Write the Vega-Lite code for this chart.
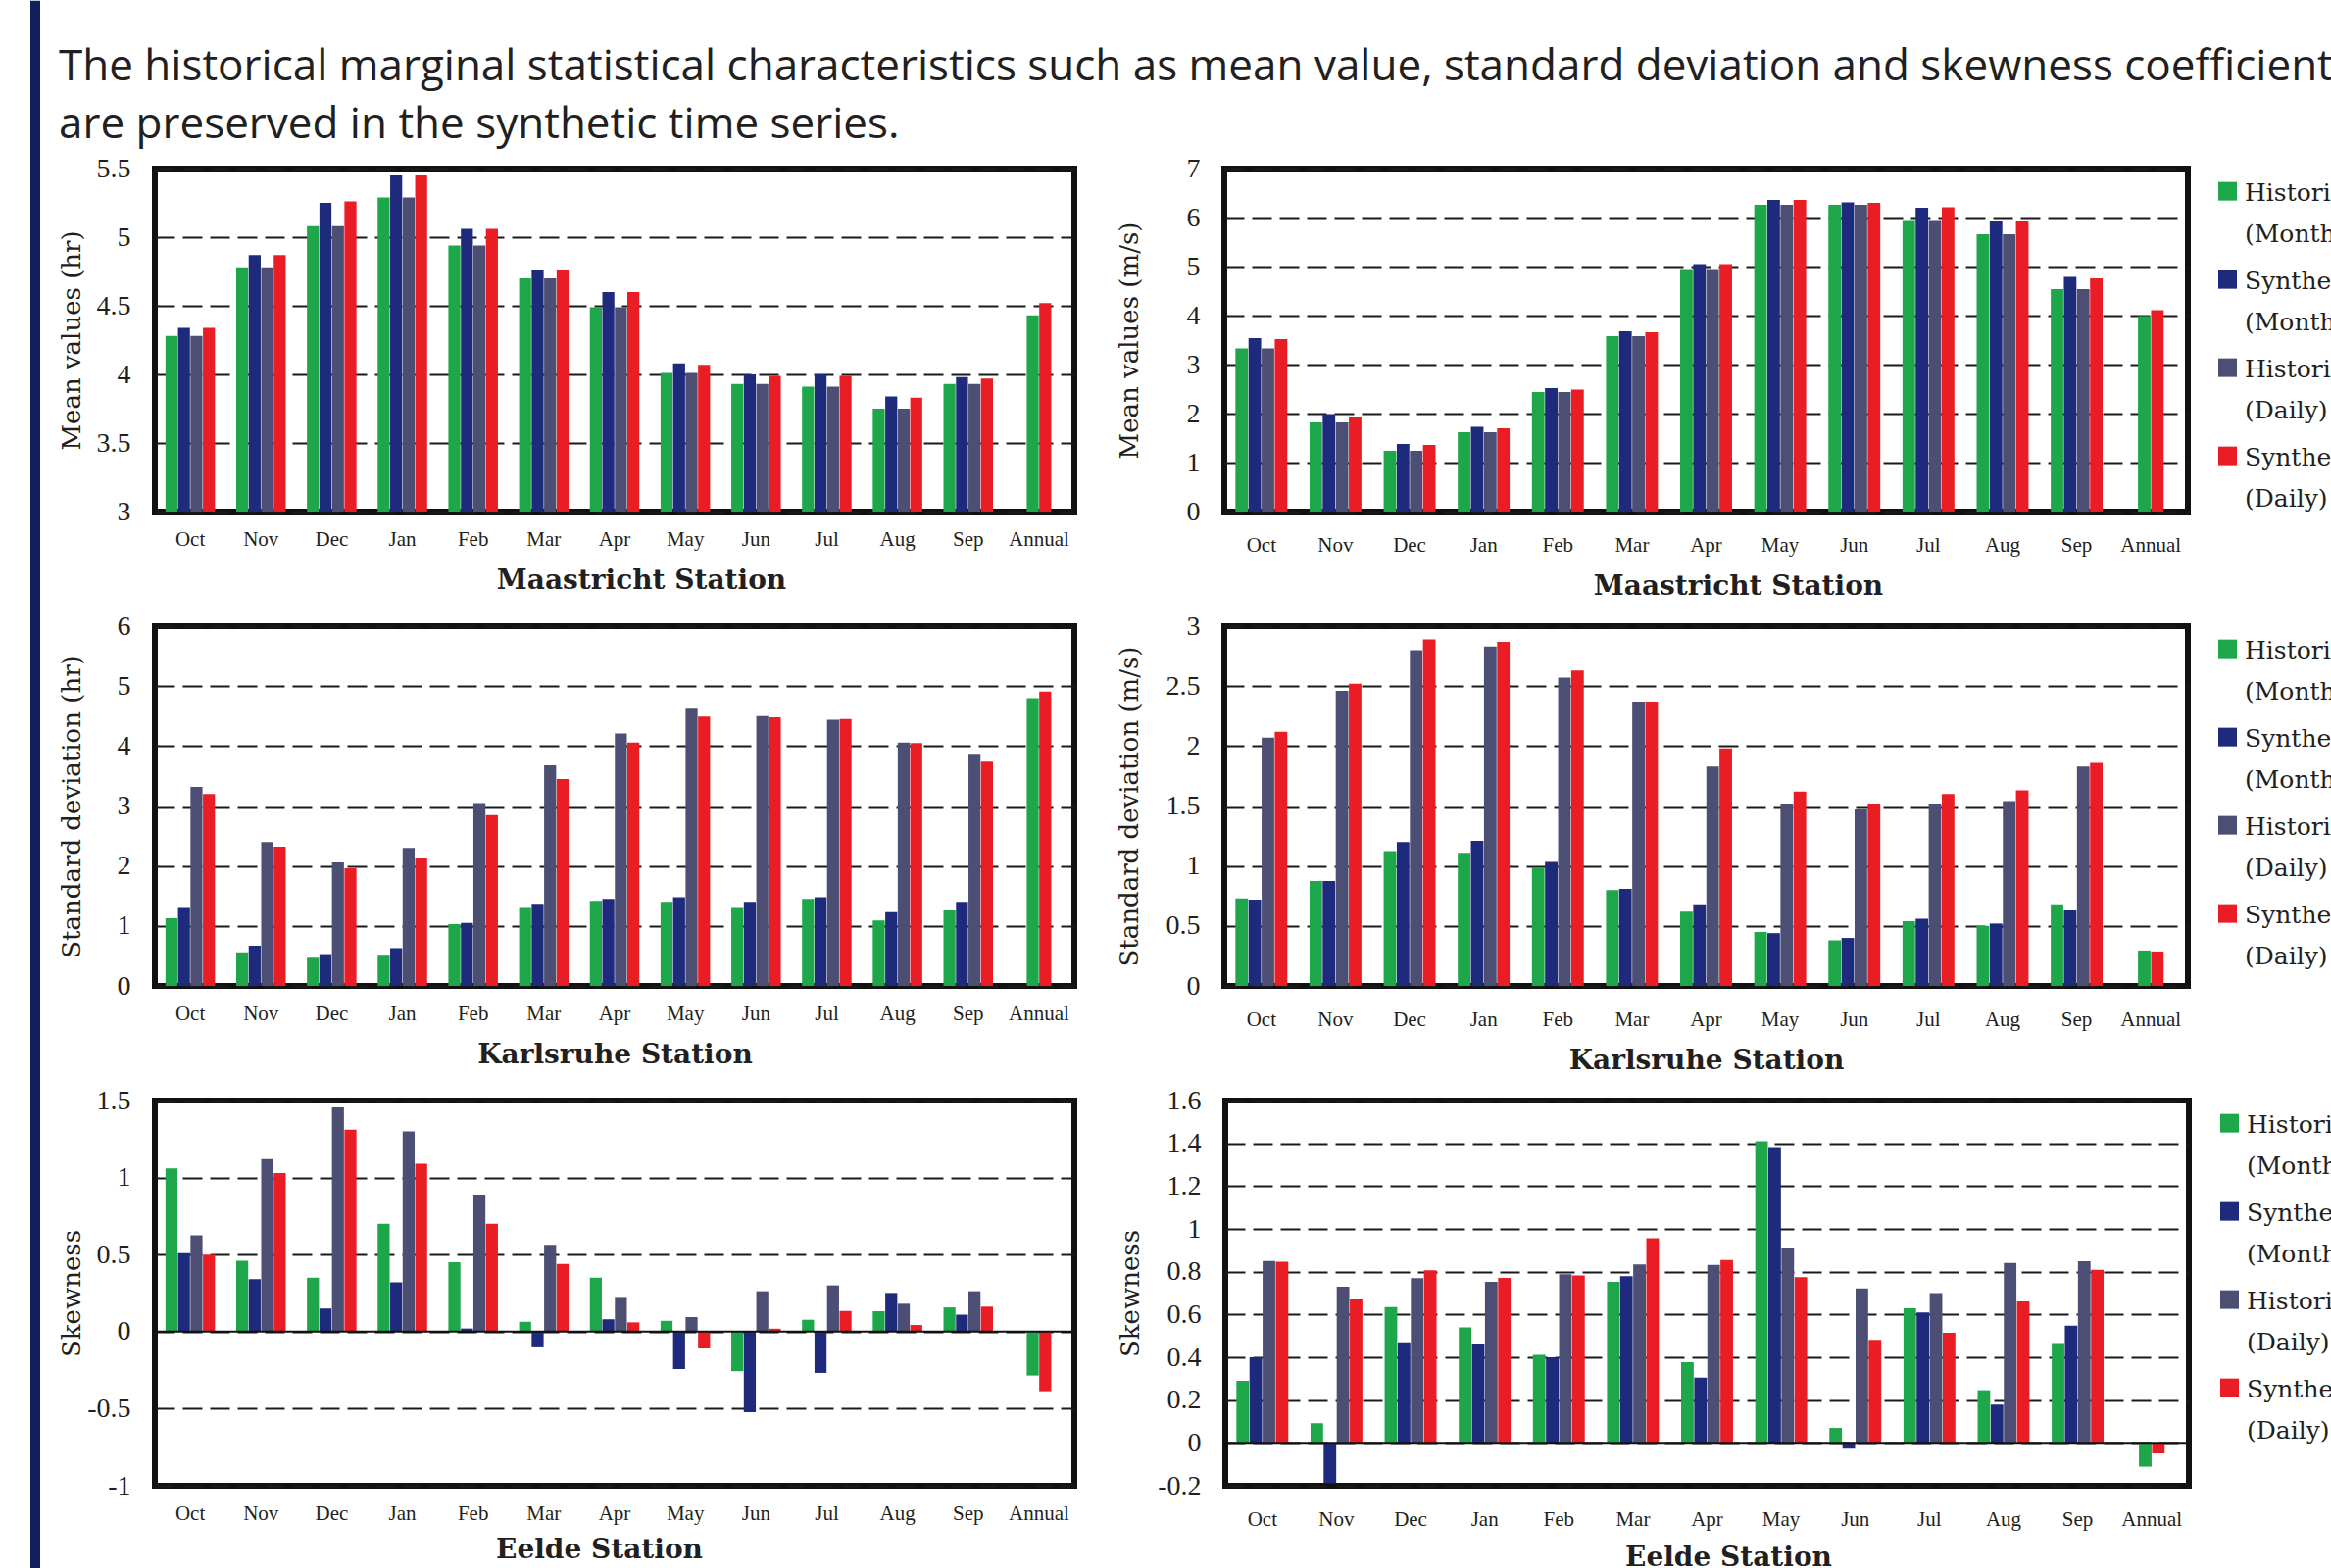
{
  "$schema": "https://vega.github.io/schema/vega-lite/v6.json",
  "background": "white",
  "padding": {"left": 31, "top": 0, "right": 0, "bottom": 0},
  "datasets": {
    "stats": [
      {"p":"mh","m":"Oct","s":"Historical (Monthly)","v":4.28},{"p":"mh","m":"Oct","s":"Synthetic (Monthly)","v":4.34},{"p":"mh","m":"Oct","s":"Historical (Daily)","v":4.28},{"p":"mh","m":"Oct","s":"Synthetic (Daily)","v":4.34},
      {"p":"mh","m":"Nov","s":"Historical (Monthly)","v":4.78},{"p":"mh","m":"Nov","s":"Synthetic (Monthly)","v":4.87},{"p":"mh","m":"Nov","s":"Historical (Daily)","v":4.78},{"p":"mh","m":"Nov","s":"Synthetic (Daily)","v":4.87},
      {"p":"mh","m":"Dec","s":"Historical (Monthly)","v":5.08},{"p":"mh","m":"Dec","s":"Synthetic (Monthly)","v":5.25},{"p":"mh","m":"Dec","s":"Historical (Daily)","v":5.08},{"p":"mh","m":"Dec","s":"Synthetic (Daily)","v":5.26},
      {"p":"mh","m":"Jan","s":"Historical (Monthly)","v":5.29},{"p":"mh","m":"Jan","s":"Synthetic (Monthly)","v":5.45},{"p":"mh","m":"Jan","s":"Historical (Daily)","v":5.29},{"p":"mh","m":"Jan","s":"Synthetic (Daily)","v":5.45},
      {"p":"mh","m":"Feb","s":"Historical (Monthly)","v":4.94},{"p":"mh","m":"Feb","s":"Synthetic (Monthly)","v":5.06},{"p":"mh","m":"Feb","s":"Historical (Daily)","v":4.94},{"p":"mh","m":"Feb","s":"Synthetic (Daily)","v":5.06},
      {"p":"mh","m":"Mar","s":"Historical (Monthly)","v":4.70},{"p":"mh","m":"Mar","s":"Synthetic (Monthly)","v":4.76},{"p":"mh","m":"Mar","s":"Historical (Daily)","v":4.70},{"p":"mh","m":"Mar","s":"Synthetic (Daily)","v":4.76},
      {"p":"mh","m":"Apr","s":"Historical (Monthly)","v":4.49},{"p":"mh","m":"Apr","s":"Synthetic (Monthly)","v":4.60},{"p":"mh","m":"Apr","s":"Historical (Daily)","v":4.49},{"p":"mh","m":"Apr","s":"Synthetic (Daily)","v":4.60},
      {"p":"mh","m":"May","s":"Historical (Monthly)","v":4.01},{"p":"mh","m":"May","s":"Synthetic (Monthly)","v":4.08},{"p":"mh","m":"May","s":"Historical (Daily)","v":4.01},{"p":"mh","m":"May","s":"Synthetic (Daily)","v":4.07},
      {"p":"mh","m":"Jun","s":"Historical (Monthly)","v":3.93},{"p":"mh","m":"Jun","s":"Synthetic (Monthly)","v":4.00},{"p":"mh","m":"Jun","s":"Historical (Daily)","v":3.93},{"p":"mh","m":"Jun","s":"Synthetic (Daily)","v":3.99},
      {"p":"mh","m":"Jul","s":"Historical (Monthly)","v":3.91},{"p":"mh","m":"Jul","s":"Synthetic (Monthly)","v":4.00},{"p":"mh","m":"Jul","s":"Historical (Daily)","v":3.91},{"p":"mh","m":"Jul","s":"Synthetic (Daily)","v":3.99},
      {"p":"mh","m":"Aug","s":"Historical (Monthly)","v":3.75},{"p":"mh","m":"Aug","s":"Synthetic (Monthly)","v":3.84},{"p":"mh","m":"Aug","s":"Historical (Daily)","v":3.75},{"p":"mh","m":"Aug","s":"Synthetic (Daily)","v":3.83},
      {"p":"mh","m":"Sep","s":"Historical (Monthly)","v":3.93},{"p":"mh","m":"Sep","s":"Synthetic (Monthly)","v":3.98},{"p":"mh","m":"Sep","s":"Historical (Daily)","v":3.93},{"p":"mh","m":"Sep","s":"Synthetic (Daily)","v":3.97},
      {"p":"mh","m":"Annual","s":"Historical (Monthly)","v":4.43},{"p":"mh","m":"Annual","s":"Synthetic (Daily)","v":4.52},

      {"p":"mw","m":"Oct","s":"Historical (Monthly)","v":3.33},{"p":"mw","m":"Oct","s":"Synthetic (Monthly)","v":3.54},{"p":"mw","m":"Oct","s":"Historical (Daily)","v":3.33},{"p":"mw","m":"Oct","s":"Synthetic (Daily)","v":3.52},
      {"p":"mw","m":"Nov","s":"Historical (Monthly)","v":1.82},{"p":"mw","m":"Nov","s":"Synthetic (Monthly)","v":1.99},{"p":"mw","m":"Nov","s":"Historical (Daily)","v":1.82},{"p":"mw","m":"Nov","s":"Synthetic (Daily)","v":1.93},
      {"p":"mw","m":"Dec","s":"Historical (Monthly)","v":1.24},{"p":"mw","m":"Dec","s":"Synthetic (Monthly)","v":1.38},{"p":"mw","m":"Dec","s":"Historical (Daily)","v":1.24},{"p":"mw","m":"Dec","s":"Synthetic (Daily)","v":1.36},
      {"p":"mw","m":"Jan","s":"Historical (Monthly)","v":1.62},{"p":"mw","m":"Jan","s":"Synthetic (Monthly)","v":1.73},{"p":"mw","m":"Jan","s":"Historical (Daily)","v":1.62},{"p":"mw","m":"Jan","s":"Synthetic (Daily)","v":1.70},
      {"p":"mw","m":"Feb","s":"Historical (Monthly)","v":2.44},{"p":"mw","m":"Feb","s":"Synthetic (Monthly)","v":2.52},{"p":"mw","m":"Feb","s":"Historical (Daily)","v":2.44},{"p":"mw","m":"Feb","s":"Synthetic (Daily)","v":2.49},
      {"p":"mw","m":"Mar","s":"Historical (Monthly)","v":3.58},{"p":"mw","m":"Mar","s":"Synthetic (Monthly)","v":3.68},{"p":"mw","m":"Mar","s":"Historical (Daily)","v":3.58},{"p":"mw","m":"Mar","s":"Synthetic (Daily)","v":3.66},
      {"p":"mw","m":"Apr","s":"Historical (Monthly)","v":4.95},{"p":"mw","m":"Apr","s":"Synthetic (Monthly)","v":5.05},{"p":"mw","m":"Apr","s":"Historical (Daily)","v":4.95},{"p":"mw","m":"Apr","s":"Synthetic (Daily)","v":5.05},
      {"p":"mw","m":"May","s":"Historical (Monthly)","v":6.26},{"p":"mw","m":"May","s":"Synthetic (Monthly)","v":6.36},{"p":"mw","m":"May","s":"Historical (Daily)","v":6.26},{"p":"mw","m":"May","s":"Synthetic (Daily)","v":6.36},
      {"p":"mw","m":"Jun","s":"Historical (Monthly)","v":6.26},{"p":"mw","m":"Jun","s":"Synthetic (Monthly)","v":6.31},{"p":"mw","m":"Jun","s":"Historical (Daily)","v":6.26},{"p":"mw","m":"Jun","s":"Synthetic (Daily)","v":6.30},
      {"p":"mw","m":"Jul","s":"Historical (Monthly)","v":5.95},{"p":"mw","m":"Jul","s":"Synthetic (Monthly)","v":6.20},{"p":"mw","m":"Jul","s":"Historical (Daily)","v":5.95},{"p":"mw","m":"Jul","s":"Synthetic (Daily)","v":6.21},
      {"p":"mw","m":"Aug","s":"Historical (Monthly)","v":5.66},{"p":"mw","m":"Aug","s":"Synthetic (Monthly)","v":5.94},{"p":"mw","m":"Aug","s":"Historical (Daily)","v":5.66},{"p":"mw","m":"Aug","s":"Synthetic (Daily)","v":5.94},
      {"p":"mw","m":"Sep","s":"Historical (Monthly)","v":4.54},{"p":"mw","m":"Sep","s":"Synthetic (Monthly)","v":4.79},{"p":"mw","m":"Sep","s":"Historical (Daily)","v":4.54},{"p":"mw","m":"Sep","s":"Synthetic (Daily)","v":4.76},
      {"p":"mw","m":"Annual","s":"Historical (Monthly)","v":3.99},{"p":"mw","m":"Annual","s":"Synthetic (Daily)","v":4.11},

      {"p":"sh","m":"Oct","s":"Historical (Monthly)","v":1.13},{"p":"sh","m":"Oct","s":"Synthetic (Monthly)","v":1.30},{"p":"sh","m":"Oct","s":"Historical (Daily)","v":3.32},{"p":"sh","m":"Oct","s":"Synthetic (Daily)","v":3.20},
      {"p":"sh","m":"Nov","s":"Historical (Monthly)","v":0.56},{"p":"sh","m":"Nov","s":"Synthetic (Monthly)","v":0.67},{"p":"sh","m":"Nov","s":"Historical (Daily)","v":2.40},{"p":"sh","m":"Nov","s":"Synthetic (Daily)","v":2.32},
      {"p":"sh","m":"Dec","s":"Historical (Monthly)","v":0.47},{"p":"sh","m":"Dec","s":"Synthetic (Monthly)","v":0.53},{"p":"sh","m":"Dec","s":"Historical (Daily)","v":2.06},{"p":"sh","m":"Dec","s":"Synthetic (Daily)","v":1.96},
      {"p":"sh","m":"Jan","s":"Historical (Monthly)","v":0.52},{"p":"sh","m":"Jan","s":"Synthetic (Monthly)","v":0.63},{"p":"sh","m":"Jan","s":"Historical (Daily)","v":2.30},{"p":"sh","m":"Jan","s":"Synthetic (Daily)","v":2.13},
      {"p":"sh","m":"Feb","s":"Historical (Monthly)","v":1.03},{"p":"sh","m":"Feb","s":"Synthetic (Monthly)","v":1.05},{"p":"sh","m":"Feb","s":"Historical (Daily)","v":3.05},{"p":"sh","m":"Feb","s":"Synthetic (Daily)","v":2.85},
      {"p":"sh","m":"Mar","s":"Historical (Monthly)","v":1.30},{"p":"sh","m":"Mar","s":"Synthetic (Monthly)","v":1.37},{"p":"sh","m":"Mar","s":"Historical (Daily)","v":3.68},{"p":"sh","m":"Mar","s":"Synthetic (Daily)","v":3.45},
      {"p":"sh","m":"Apr","s":"Historical (Monthly)","v":1.42},{"p":"sh","m":"Apr","s":"Synthetic (Monthly)","v":1.45},{"p":"sh","m":"Apr","s":"Historical (Daily)","v":4.21},{"p":"sh","m":"Apr","s":"Synthetic (Daily)","v":4.06},
      {"p":"sh","m":"May","s":"Historical (Monthly)","v":1.40},{"p":"sh","m":"May","s":"Synthetic (Monthly)","v":1.48},{"p":"sh","m":"May","s":"Historical (Daily)","v":4.64},{"p":"sh","m":"May","s":"Synthetic (Daily)","v":4.49},
      {"p":"sh","m":"Jun","s":"Historical (Monthly)","v":1.30},{"p":"sh","m":"Jun","s":"Synthetic (Monthly)","v":1.40},{"p":"sh","m":"Jun","s":"Historical (Daily)","v":4.50},{"p":"sh","m":"Jun","s":"Synthetic (Daily)","v":4.48},
      {"p":"sh","m":"Jul","s":"Historical (Monthly)","v":1.45},{"p":"sh","m":"Jul","s":"Synthetic (Monthly)","v":1.48},{"p":"sh","m":"Jul","s":"Historical (Daily)","v":4.44},{"p":"sh","m":"Jul","s":"Synthetic (Daily)","v":4.45},
      {"p":"sh","m":"Aug","s":"Historical (Monthly)","v":1.09},{"p":"sh","m":"Aug","s":"Synthetic (Monthly)","v":1.23},{"p":"sh","m":"Aug","s":"Historical (Daily)","v":4.06},{"p":"sh","m":"Aug","s":"Synthetic (Daily)","v":4.05},
      {"p":"sh","m":"Sep","s":"Historical (Monthly)","v":1.26},{"p":"sh","m":"Sep","s":"Synthetic (Monthly)","v":1.40},{"p":"sh","m":"Sep","s":"Historical (Daily)","v":3.87},{"p":"sh","m":"Sep","s":"Synthetic (Daily)","v":3.74},
      {"p":"sh","m":"Annual","s":"Historical (Monthly)","v":4.80},{"p":"sh","m":"Annual","s":"Synthetic (Daily)","v":4.91},

      {"p":"sw","m":"Oct","s":"Historical (Monthly)","v":0.73},{"p":"sw","m":"Oct","s":"Synthetic (Monthly)","v":0.72},{"p":"sw","m":"Oct","s":"Historical (Daily)","v":2.07},{"p":"sw","m":"Oct","s":"Synthetic (Daily)","v":2.12},
      {"p":"sw","m":"Nov","s":"Historical (Monthly)","v":0.875},{"p":"sw","m":"Nov","s":"Synthetic (Monthly)","v":0.875},{"p":"sw","m":"Nov","s":"Historical (Daily)","v":2.46},{"p":"sw","m":"Nov","s":"Synthetic (Daily)","v":2.52},
      {"p":"sw","m":"Dec","s":"Historical (Monthly)","v":1.125},{"p":"sw","m":"Dec","s":"Synthetic (Monthly)","v":1.20},{"p":"sw","m":"Dec","s":"Historical (Daily)","v":2.80},{"p":"sw","m":"Dec","s":"Synthetic (Daily)","v":2.89},
      {"p":"sw","m":"Jan","s":"Historical (Monthly)","v":1.11},{"p":"sw","m":"Jan","s":"Synthetic (Monthly)","v":1.21},{"p":"sw","m":"Jan","s":"Historical (Daily)","v":2.83},{"p":"sw","m":"Jan","s":"Synthetic (Daily)","v":2.87},
      {"p":"sw","m":"Feb","s":"Historical (Monthly)","v":0.99},{"p":"sw","m":"Feb","s":"Synthetic (Monthly)","v":1.035},{"p":"sw","m":"Feb","s":"Historical (Daily)","v":2.57},{"p":"sw","m":"Feb","s":"Synthetic (Daily)","v":2.63},
      {"p":"sw","m":"Mar","s":"Historical (Monthly)","v":0.80},{"p":"sw","m":"Mar","s":"Synthetic (Monthly)","v":0.81},{"p":"sw","m":"Mar","s":"Historical (Daily)","v":2.37},{"p":"sw","m":"Mar","s":"Synthetic (Daily)","v":2.37},
      {"p":"sw","m":"Apr","s":"Historical (Monthly)","v":0.62},{"p":"sw","m":"Apr","s":"Synthetic (Monthly)","v":0.68},{"p":"sw","m":"Apr","s":"Historical (Daily)","v":1.83},{"p":"sw","m":"Apr","s":"Synthetic (Daily)","v":1.98},
      {"p":"sw","m":"May","s":"Historical (Monthly)","v":0.45},{"p":"sw","m":"May","s":"Synthetic (Monthly)","v":0.44},{"p":"sw","m":"May","s":"Historical (Daily)","v":1.52},{"p":"sw","m":"May","s":"Synthetic (Daily)","v":1.62},
      {"p":"sw","m":"Jun","s":"Historical (Monthly)","v":0.38},{"p":"sw","m":"Jun","s":"Synthetic (Monthly)","v":0.40},{"p":"sw","m":"Jun","s":"Historical (Daily)","v":1.48},{"p":"sw","m":"Jun","s":"Synthetic (Daily)","v":1.52},
      {"p":"sw","m":"Jul","s":"Historical (Monthly)","v":0.54},{"p":"sw","m":"Jul","s":"Synthetic (Monthly)","v":0.56},{"p":"sw","m":"Jul","s":"Historical (Daily)","v":1.52},{"p":"sw","m":"Jul","s":"Synthetic (Daily)","v":1.60},
      {"p":"sw","m":"Aug","s":"Historical (Monthly)","v":0.50},{"p":"sw","m":"Aug","s":"Synthetic (Monthly)","v":0.52},{"p":"sw","m":"Aug","s":"Historical (Daily)","v":1.54},{"p":"sw","m":"Aug","s":"Synthetic (Daily)","v":1.63},
      {"p":"sw","m":"Sep","s":"Historical (Monthly)","v":0.68},{"p":"sw","m":"Sep","s":"Synthetic (Monthly)","v":0.63},{"p":"sw","m":"Sep","s":"Historical (Daily)","v":1.83},{"p":"sw","m":"Sep","s":"Synthetic (Daily)","v":1.86},
      {"p":"sw","m":"Annual","s":"Historical (Monthly)","v":0.295},{"p":"sw","m":"Annual","s":"Synthetic (Daily)","v":0.287},

      {"p":"kh","m":"Oct","s":"Historical (Monthly)","v":1.06},{"p":"kh","m":"Oct","s":"Synthetic (Monthly)","v":0.51},{"p":"kh","m":"Oct","s":"Historical (Daily)","v":0.625},{"p":"kh","m":"Oct","s":"Synthetic (Daily)","v":0.50},
      {"p":"kh","m":"Nov","s":"Historical (Monthly)","v":0.46},{"p":"kh","m":"Nov","s":"Synthetic (Monthly)","v":0.34},{"p":"kh","m":"Nov","s":"Historical (Daily)","v":1.12},{"p":"kh","m":"Nov","s":"Synthetic (Daily)","v":1.03},
      {"p":"kh","m":"Dec","s":"Historical (Monthly)","v":0.35},{"p":"kh","m":"Dec","s":"Synthetic (Monthly)","v":0.15},{"p":"kh","m":"Dec","s":"Historical (Daily)","v":1.455},{"p":"kh","m":"Dec","s":"Synthetic (Daily)","v":1.31},
      {"p":"kh","m":"Jan","s":"Historical (Monthly)","v":0.70},{"p":"kh","m":"Jan","s":"Synthetic (Monthly)","v":0.32},{"p":"kh","m":"Jan","s":"Historical (Daily)","v":1.30},{"p":"kh","m":"Jan","s":"Synthetic (Daily)","v":1.09},
      {"p":"kh","m":"Feb","s":"Historical (Monthly)","v":0.45},{"p":"kh","m":"Feb","s":"Synthetic (Monthly)","v":0.02},{"p":"kh","m":"Feb","s":"Historical (Daily)","v":0.89},{"p":"kh","m":"Feb","s":"Synthetic (Daily)","v":0.70},
      {"p":"kh","m":"Mar","s":"Historical (Monthly)","v":0.064},{"p":"kh","m":"Mar","s":"Synthetic (Monthly)","v":-0.096},{"p":"kh","m":"Mar","s":"Historical (Daily)","v":0.564},{"p":"kh","m":"Mar","s":"Synthetic (Daily)","v":0.44},
      {"p":"kh","m":"Apr","s":"Historical (Monthly)","v":0.35},{"p":"kh","m":"Apr","s":"Synthetic (Monthly)","v":0.08},{"p":"kh","m":"Apr","s":"Historical (Daily)","v":0.225},{"p":"kh","m":"Apr","s":"Synthetic (Daily)","v":0.06},
      {"p":"kh","m":"May","s":"Historical (Monthly)","v":0.07},{"p":"kh","m":"May","s":"Synthetic (Monthly)","v":-0.243},{"p":"kh","m":"May","s":"Historical (Daily)","v":0.094},{"p":"kh","m":"May","s":"Synthetic (Daily)","v":-0.104},
      {"p":"kh","m":"Jun","s":"Historical (Monthly)","v":-0.257},{"p":"kh","m":"Jun","s":"Synthetic (Monthly)","v":-0.523},{"p":"kh","m":"Jun","s":"Historical (Daily)","v":0.262},{"p":"kh","m":"Jun","s":"Synthetic (Daily)","v":0.019},
      {"p":"kh","m":"Jul","s":"Historical (Monthly)","v":0.077},{"p":"kh","m":"Jul","s":"Synthetic (Monthly)","v":-0.268},{"p":"kh","m":"Jul","s":"Historical (Daily)","v":0.30},{"p":"kh","m":"Jul","s":"Synthetic (Daily)","v":0.134},
      {"p":"kh","m":"Aug","s":"Historical (Monthly)","v":0.132},{"p":"kh","m":"Aug","s":"Synthetic (Monthly)","v":0.251},{"p":"kh","m":"Aug","s":"Historical (Daily)","v":0.181},{"p":"kh","m":"Aug","s":"Synthetic (Daily)","v":0.043},
      {"p":"kh","m":"Sep","s":"Historical (Monthly)","v":0.157},{"p":"kh","m":"Sep","s":"Synthetic (Monthly)","v":0.11},{"p":"kh","m":"Sep","s":"Historical (Daily)","v":0.262},{"p":"kh","m":"Sep","s":"Synthetic (Daily)","v":0.162},
      {"p":"kh","m":"Annual","s":"Historical (Monthly)","v":-0.285},{"p":"kh","m":"Annual","s":"Synthetic (Daily)","v":-0.387},

      {"p":"kw","m":"Oct","s":"Historical (Monthly)","v":0.29},{"p":"kw","m":"Oct","s":"Synthetic (Monthly)","v":0.40},{"p":"kw","m":"Oct","s":"Historical (Daily)","v":0.85},{"p":"kw","m":"Oct","s":"Synthetic (Daily)","v":0.847},
      {"p":"kw","m":"Nov","s":"Historical (Monthly)","v":0.092},{"p":"kw","m":"Nov","s":"Synthetic (Monthly)","v":-0.188},{"p":"kw","m":"Nov","s":"Historical (Daily)","v":0.73},{"p":"kw","m":"Nov","s":"Synthetic (Daily)","v":0.673},
      {"p":"kw","m":"Dec","s":"Historical (Monthly)","v":0.635},{"p":"kw","m":"Dec","s":"Synthetic (Monthly)","v":0.47},{"p":"kw","m":"Dec","s":"Historical (Daily)","v":0.77},{"p":"kw","m":"Dec","s":"Synthetic (Daily)","v":0.806},
      {"p":"kw","m":"Jan","s":"Historical (Monthly)","v":0.54},{"p":"kw","m":"Jan","s":"Synthetic (Monthly)","v":0.464},{"p":"kw","m":"Jan","s":"Historical (Daily)","v":0.753},{"p":"kw","m":"Jan","s":"Synthetic (Daily)","v":0.771},
      {"p":"kw","m":"Feb","s":"Historical (Monthly)","v":0.412},{"p":"kw","m":"Feb","s":"Synthetic (Monthly)","v":0.40},{"p":"kw","m":"Feb","s":"Historical (Daily)","v":0.788},{"p":"kw","m":"Feb","s":"Synthetic (Daily)","v":0.783},
      {"p":"kw","m":"Mar","s":"Historical (Monthly)","v":0.753},{"p":"kw","m":"Mar","s":"Synthetic (Monthly)","v":0.779},{"p":"kw","m":"Mar","s":"Historical (Daily)","v":0.834},{"p":"kw","m":"Mar","s":"Synthetic (Daily)","v":0.957},
      {"p":"kw","m":"Apr","s":"Historical (Monthly)","v":0.377},{"p":"kw","m":"Apr","s":"Synthetic (Monthly)","v":0.305},{"p":"kw","m":"Apr","s":"Historical (Daily)","v":0.832},{"p":"kw","m":"Apr","s":"Synthetic (Daily)","v":0.855},
      {"p":"kw","m":"May","s":"Historical (Monthly)","v":1.41},{"p":"kw","m":"May","s":"Synthetic (Monthly)","v":1.383},{"p":"kw","m":"May","s":"Historical (Daily)","v":0.913},{"p":"kw","m":"May","s":"Synthetic (Daily)","v":0.774},
      {"p":"kw","m":"Jun","s":"Historical (Monthly)","v":0.07},{"p":"kw","m":"Jun","s":"Synthetic (Monthly)","v":-0.027},{"p":"kw","m":"Jun","s":"Historical (Daily)","v":0.722},{"p":"kw","m":"Jun","s":"Synthetic (Daily)","v":0.481},
      {"p":"kw","m":"Jul","s":"Historical (Monthly)","v":0.629},{"p":"kw","m":"Jul","s":"Synthetic (Monthly)","v":0.609},{"p":"kw","m":"Jul","s":"Historical (Daily)","v":0.70},{"p":"kw","m":"Jul","s":"Synthetic (Daily)","v":0.514},
      {"p":"kw","m":"Aug","s":"Historical (Monthly)","v":0.246},{"p":"kw","m":"Aug","s":"Synthetic (Monthly)","v":0.179},{"p":"kw","m":"Aug","s":"Historical (Daily)","v":0.841},{"p":"kw","m":"Aug","s":"Synthetic (Daily)","v":0.661},
      {"p":"kw","m":"Sep","s":"Historical (Monthly)","v":0.466},{"p":"kw","m":"Sep","s":"Synthetic (Monthly)","v":0.548},{"p":"kw","m":"Sep","s":"Historical (Daily)","v":0.849},{"p":"kw","m":"Sep","s":"Synthetic (Daily)","v":0.809},
      {"p":"kw","m":"Annual","s":"Historical (Monthly)","v":-0.111},{"p":"kw","m":"Annual","s":"Synthetic (Daily)","v":-0.049}
    ]
  },
  "spacing": 16,
  "hconcat": [
    {
      "width": 10,
      "height": 1600,
      "view": {"stroke": null, "strokeWidth": 0},
      "data": {"values": [{}]},
      "mark": {"type": "rect", "color": "#0f1f5c"},
      "encoding": {
        "y": {"datum": 0, "type": "quantitative", "scale": {"domain": [0, 1], "nice": false}, "axis": null},
        "y2": {"datum": 1.107}
      }
    },
    {
      "title": {
        "text": " ",
        "fontSize": 30,
        "anchor": "start",
        "dx": 3,
        "offset": 5,
        "subtitle": [
          "The historical marginal statistical characteristics such as mean value, standard deviation and skewness coefficient",
          "are preserved in the synthetic time series."
        ],
        "subtitleFont": "Open Sans",
        "subtitleFontSize": 44,
        "subtitleLineHeight": 59,
        "subtitleColor": "#231f20",
        "subtitlePadding": 15
      },
      "spacing": 7,
      "resolve": {"scale": {"color": "independent"}, "legend": {"color": "independent"}},
      "vconcat": [
        {
          "spacing": 37,
          "hconcat": [
            {
              "width": 938, "height": 350,
              "data": {"name": "stats"},
              "layer": [
                {
                  "transform": [{"filter": "datum.p == 'mh' && datum.m != 'Annual'"}],
                  "mark": {"type": "bar", "clip": true},
                  "encoding": {
                    "x": {"field": "m", "type": "nominal", "title": "Maastricht Station", "scale": {"domain": ["Oct","Nov","Dec","Jan","Feb","Mar","Apr","May","Jun","Jul","Aug","Sep","Annual"], "paddingInner": 0.3, "paddingOuter": 0.15}, "axis": {"labelPadding": 17, "titleX": 496}},
                    "y": {"field": "v", "type": "quantitative", "title": "Mean values (hr)", "scale": {"domain": [3, 5.5], "nice": false, "zero": false}, "axis": {"values": [3, 3.5, 4, 4.5, 5, 5.5], "labelExpr": "datum.value + ''", "titlePadding": 12}},
                    "xOffset": {"field": "s", "scale": {"domain": ["Historical (Monthly)","Synthetic (Monthly)","Historical (Daily)","Synthetic (Daily)"], "paddingInner": 0.04}},
                    "color": {"field": "s", "type": "nominal", "title": null, "scale": {"domain": ["Historical (Monthly)","Synthetic (Monthly)","Historical (Daily)","Synthetic (Daily)"], "range": ["#1da64a","#1e2a7b","#4c4f73","#ea1d25"]}, "legend": {"labelExpr": "split(datum.label, ' ')"}}
                  }
                },
                {
                  "transform": [{"filter": "datum.p == 'mh' && datum.m == 'Annual'"}],
                  "mark": {"type": "bar", "clip": true},
                  "encoding": {
                    "x": {"field": "m", "type": "nominal", "title": "Maastricht Station"},
                    "y": {"field": "v", "type": "quantitative", "title": "Mean values (hr)", "scale": {"zero": false}},
                    "xOffset": {"field": "s", "scale": {"domain": ["Historical (Monthly)","Synthetic (Daily)"], "paddingInner": 0.04, "paddingOuter": 1}},
                    "color": {"field": "s", "type": "nominal", "title": null, "scale": {"domain": ["Historical (Monthly)","Synthetic (Monthly)","Historical (Daily)","Synthetic (Daily)"], "range": ["#1da64a","#1e2a7b","#4c4f73","#ea1d25"]}, "legend": {"labelExpr": "split(datum.label, ' ')"}}
                  }
                }
              ],
              "resolve": {"scale": {"xOffset": "independent"}}
            },
            {
              "width": 983, "height": 350,
              "data": {"name": "stats"},
              "layer": [
                {
                  "transform": [{"filter": "datum.p == 'mw' && datum.m != 'Annual'"}],
                  "mark": {"type": "bar", "clip": true},
                  "encoding": {
                    "x": {"field": "m", "type": "nominal", "title": "Maastricht Station", "scale": {"domain": ["Oct","Nov","Dec","Jan","Feb","Mar","Apr","May","Jun","Jul","Aug","Sep","Annual"], "paddingInner": 0.3, "paddingOuter": 0.15}, "axis": {"labelPadding": 23, "titleX": 524}},
                    "y": {"field": "v", "type": "quantitative", "title": "Mean values (m/s)", "scale": {"domain": [0, 7], "nice": false}, "axis": {"values": [0, 1, 2, 3, 4, 5, 6, 7], "labelExpr": "datum.value + ''", "titlePadding": 24}},
                    "xOffset": {"field": "s", "scale": {"domain": ["Historical (Monthly)","Synthetic (Monthly)","Historical (Daily)","Synthetic (Daily)"], "paddingInner": 0.04}},
                    "color": {"field": "s", "type": "nominal", "title": null, "scale": {"domain": ["Historical (Monthly)","Synthetic (Monthly)","Historical (Daily)","Synthetic (Daily)"], "range": ["#1da64a","#1e2a7b","#4c4f73","#ea1d25"]}, "legend": {"labelExpr": "split(datum.label, ' ')"}}
                  }
                },
                {
                  "transform": [{"filter": "datum.p == 'mw' && datum.m == 'Annual'"}],
                  "mark": {"type": "bar", "clip": true},
                  "encoding": {
                    "x": {"field": "m", "type": "nominal", "title": "Maastricht Station"},
                    "y": {"field": "v", "type": "quantitative", "title": "Mean values (m/s)"},
                    "xOffset": {"field": "s", "scale": {"domain": ["Historical (Monthly)","Synthetic (Daily)"], "paddingInner": 0.04, "paddingOuter": 1}},
                    "color": {"field": "s", "type": "nominal", "title": null, "scale": {"domain": ["Historical (Monthly)","Synthetic (Monthly)","Historical (Daily)","Synthetic (Daily)"], "range": ["#1da64a","#1e2a7b","#4c4f73","#ea1d25"]}, "legend": {"labelExpr": "split(datum.label, ' ')"}}
                  }
                }
              ],
              "resolve": {"scale": {"xOffset": "independent"}}
            }
          ]
        },
        {
          "spacing": 37,
          "hconcat": [
            {
              "width": 938, "height": 367,
              "data": {"name": "stats"},
              "layer": [
                {
                  "transform": [{"filter": "datum.p == 'sh' && datum.m != 'Annual'"}],
                  "mark": {"type": "bar", "clip": true},
                  "encoding": {
                    "x": {"field": "m", "type": "nominal", "title": "Karlsruhe Station", "scale": {"domain": ["Oct","Nov","Dec","Jan","Feb","Mar","Apr","May","Jun","Jul","Aug","Sep","Annual"], "paddingInner": 0.3, "paddingOuter": 0.15}, "axis": {"labelPadding": 17}},
                    "y": {"field": "v", "type": "quantitative", "title": "Standard deviation (hr)", "scale": {"domain": [0, 6], "nice": false}, "axis": {"values": [0, 1, 2, 3, 4, 5, 6], "labelExpr": "datum.value + ''", "titlePadding": 12}},
                    "xOffset": {"field": "s", "scale": {"domain": ["Historical (Monthly)","Synthetic (Monthly)","Historical (Daily)","Synthetic (Daily)"], "paddingInner": 0.04}},
                    "color": {"field": "s", "type": "nominal", "title": null, "scale": {"domain": ["Historical (Monthly)","Synthetic (Monthly)","Historical (Daily)","Synthetic (Daily)"], "range": ["#1da64a","#1e2a7b","#4c4f73","#ea1d25"]}, "legend": {"labelExpr": "split(datum.label, ' ')"}}
                  }
                },
                {
                  "transform": [{"filter": "datum.p == 'sh' && datum.m == 'Annual'"}],
                  "mark": {"type": "bar", "clip": true},
                  "encoding": {
                    "x": {"field": "m", "type": "nominal", "title": "Karlsruhe Station"},
                    "y": {"field": "v", "type": "quantitative", "title": "Standard deviation (hr)"},
                    "xOffset": {"field": "s", "scale": {"domain": ["Historical (Monthly)","Synthetic (Daily)"], "paddingInner": 0.04, "paddingOuter": 1}},
                    "color": {"field": "s", "type": "nominal", "title": null, "scale": {"domain": ["Historical (Monthly)","Synthetic (Monthly)","Historical (Daily)","Synthetic (Daily)"], "range": ["#1da64a","#1e2a7b","#4c4f73","#ea1d25"]}, "legend": {"labelExpr": "split(datum.label, ' ')"}}
                  }
                }
              ],
              "resolve": {"scale": {"xOffset": "independent"}}
            },
            {
              "width": 983, "height": 367,
              "data": {"name": "stats"},
              "layer": [
                {
                  "transform": [{"filter": "datum.p == 'sw' && datum.m != 'Annual'"}],
                  "mark": {"type": "bar", "clip": true},
                  "encoding": {
                    "x": {"field": "m", "type": "nominal", "title": "Karlsruhe Station", "scale": {"domain": ["Oct","Nov","Dec","Jan","Feb","Mar","Apr","May","Jun","Jul","Aug","Sep","Annual"], "paddingInner": 0.3, "paddingOuter": 0.15}, "axis": {"labelPadding": 23}},
                    "y": {"field": "v", "type": "quantitative", "title": "Standard deviation (m/s)", "scale": {"domain": [0, 3], "nice": false}, "axis": {"values": [0, 0.5, 1, 1.5, 2, 2.5, 3], "labelExpr": "datum.value + ''", "titlePadding": 24}},
                    "xOffset": {"field": "s", "scale": {"domain": ["Historical (Monthly)","Synthetic (Monthly)","Historical (Daily)","Synthetic (Daily)"], "paddingInner": 0.04}},
                    "color": {"field": "s", "type": "nominal", "title": null, "scale": {"domain": ["Historical (Monthly)","Synthetic (Monthly)","Historical (Daily)","Synthetic (Daily)"], "range": ["#1da64a","#1e2a7b","#4c4f73","#ea1d25"]}, "legend": {"labelExpr": "split(datum.label, ' ')"}}
                  }
                },
                {
                  "transform": [{"filter": "datum.p == 'sw' && datum.m == 'Annual'"}],
                  "mark": {"type": "bar", "clip": true},
                  "encoding": {
                    "x": {"field": "m", "type": "nominal", "title": "Karlsruhe Station"},
                    "y": {"field": "v", "type": "quantitative", "title": "Standard deviation (m/s)"},
                    "xOffset": {"field": "s", "scale": {"domain": ["Historical (Monthly)","Synthetic (Daily)"], "paddingInner": 0.04, "paddingOuter": 1}},
                    "color": {"field": "s", "type": "nominal", "title": null, "scale": {"domain": ["Historical (Monthly)","Synthetic (Monthly)","Historical (Daily)","Synthetic (Daily)"], "range": ["#1da64a","#1e2a7b","#4c4f73","#ea1d25"]}, "legend": {"labelExpr": "split(datum.label, ' ')"}}
                  }
                }
              ],
              "resolve": {"scale": {"xOffset": "independent"}}
            }
          ]
        },
        {
          "spacing": 37,
          "hconcat": [
            {
              "width": 938, "height": 393,
              "data": {"name": "stats"},
              "layer": [
                {
                  "transform": [{"filter": "datum.p == 'kh' && datum.m != 'Annual'"}],
                  "mark": {"type": "bar", "clip": true},
                  "encoding": {
                    "x": {"field": "m", "type": "nominal", "title": "Eelde Station", "scale": {"domain": ["Oct","Nov","Dec","Jan","Feb","Mar","Apr","May","Jun","Jul","Aug","Sep","Annual"], "paddingInner": 0.3, "paddingOuter": 0.15}, "axis": {"labelPadding": 17, "titleX": 453, "titlePadding": 13}},
                    "y": {"field": "v", "type": "quantitative", "title": "Skewness", "scale": {"domain": [-1, 1.5], "nice": false}, "axis": {"values": [-1, -0.5, 0, 0.5, 1, 1.5], "labelExpr": "datum.value + ''", "titlePadding": 12}},
                    "xOffset": {"field": "s", "scale": {"domain": ["Historical (Monthly)","Synthetic (Monthly)","Historical (Daily)","Synthetic (Daily)"], "paddingInner": 0.04}},
                    "color": {"field": "s", "type": "nominal", "title": null, "scale": {"domain": ["Historical (Monthly)","Synthetic (Monthly)","Historical (Daily)","Synthetic (Daily)"], "range": ["#1da64a","#1e2a7b","#4c4f73","#ea1d25"]}, "legend": {"labelExpr": "split(datum.label, ' ')"}}
                  }
                },
                {
                  "transform": [{"filter": "datum.p == 'kh' && datum.m == 'Annual'"}],
                  "mark": {"type": "bar", "clip": true},
                  "encoding": {
                    "x": {"field": "m", "type": "nominal", "title": "Eelde Station"},
                    "y": {"field": "v", "type": "quantitative", "title": "Skewness"},
                    "xOffset": {"field": "s", "scale": {"domain": ["Historical (Monthly)","Synthetic (Daily)"], "paddingInner": 0.04, "paddingOuter": 1}},
                    "color": {"field": "s", "type": "nominal", "title": null, "scale": {"domain": ["Historical (Monthly)","Synthetic (Monthly)","Historical (Daily)","Synthetic (Daily)"], "range": ["#1da64a","#1e2a7b","#4c4f73","#ea1d25"]}, "legend": {"labelExpr": "split(datum.label, ' ')"}}
                  }
                },
                {
                  "data": {"values": [{}]},
                  "mark": {"type": "rule", "color": "#111111", "strokeWidth": 2},
                  "encoding": {"y": {"datum": 0, "type": "quantitative", "title": "Skewness"}}
                }
              ],
              "resolve": {"scale": {"xOffset": "independent"}}
            },
            {
              "width": 983, "height": 393,
              "data": {"name": "stats"},
              "layer": [
                {
                  "transform": [{"filter": "datum.p == 'kw' && datum.m != 'Annual'"}],
                  "mark": {"type": "bar", "clip": true},
                  "encoding": {
                    "x": {"field": "m", "type": "nominal", "title": "Eelde Station", "scale": {"domain": ["Oct","Nov","Dec","Jan","Feb","Mar","Apr","May","Jun","Jul","Aug","Sep","Annual"], "paddingInner": 0.3, "paddingOuter": 0.15}, "axis": {"labelPadding": 23, "titleX": 513, "titlePadding": 15}},
                    "y": {"field": "v", "type": "quantitative", "title": "Skewness", "scale": {"domain": [-0.2, 1.6], "nice": false}, "axis": {"values": [-0.2, 0, 0.2, 0.4, 0.6, 0.8, 1, 1.2, 1.4, 1.6], "labelExpr": "datum.value + ''", "titlePadding": 24}},
                    "xOffset": {"field": "s", "scale": {"domain": ["Historical (Monthly)","Synthetic (Monthly)","Historical (Daily)","Synthetic (Daily)"], "paddingInner": 0.04}},
                    "color": {"field": "s", "type": "nominal", "title": null, "scale": {"domain": ["Historical (Monthly)","Synthetic (Monthly)","Historical (Daily)","Synthetic (Daily)"], "range": ["#1da64a","#1e2a7b","#4c4f73","#ea1d25"]}, "legend": {"labelExpr": "split(datum.label, ' ')"}}
                  }
                },
                {
                  "transform": [{"filter": "datum.p == 'kw' && datum.m == 'Annual'"}],
                  "mark": {"type": "bar", "clip": true},
                  "encoding": {
                    "x": {"field": "m", "type": "nominal", "title": "Eelde Station"},
                    "y": {"field": "v", "type": "quantitative", "title": "Skewness"},
                    "xOffset": {"field": "s", "scale": {"domain": ["Historical (Monthly)","Synthetic (Daily)"], "paddingInner": 0.04, "paddingOuter": 1}},
                    "color": {"field": "s", "type": "nominal", "title": null, "scale": {"domain": ["Historical (Monthly)","Synthetic (Monthly)","Historical (Daily)","Synthetic (Daily)"], "range": ["#1da64a","#1e2a7b","#4c4f73","#ea1d25"]}, "legend": {"labelExpr": "split(datum.label, ' ')"}}
                  }
                },
                {
                  "data": {"values": [{}]},
                  "mark": {"type": "rule", "color": "#111111", "strokeWidth": 2},
                  "encoding": {"y": {"datum": 0, "type": "quantitative", "title": "Skewness"}}
                }
              ],
              "resolve": {"scale": {"xOffset": "independent"}}
            }
          ]
        }
      ]
    }
  ],
  "config": {
    "font": "Liberation Serif",
    "view": {"stroke": "#111111", "strokeWidth": 6},
    "bar": {"stroke": null},
    "style": {"guide-label": {"lineHeight": 42}},
    "axis": {
      "labelFont": "Liberation Serif",
      "labelColor": "#231f20",
      "titleFont": "DejaVu Serif",
      "titleColor": "#231f20",
      "titleFontWeight": "normal",
      "ticks": false,
      "domain": false
    },
    "axisY": {
      "labelFontSize": 28,
      "labelPadding": 25,
      "titleFontSize": 26,
      "grid": true,
      "gridDash": [20, 8],
      "gridColor": "#1a1a1a",
      "gridWidth": 2.2,
      "zindex": 1,
      "minExtent": 60,
      "maxExtent": 60
    },
    "axisX": {
      "labelFontSize": 21,
      "labelAngle": 0,
      "titleFont": "DejaVu Serif",
      "titleFontSize": 28,
      "titleFontWeight": "bold",
      "titlePadding": 18,
      "grid": false
    },
    "legend": {
      "orient": "right",
      "offset": 25,
      "padding": 0,
      "symbolType": "M-1,0.12H1V2.12H-1Z",
      "symbolSize": 361,
      "symbolStrokeWidth": 0,
      "symbolOpacity": 1,
      "labelFont": "DejaVu Serif",
      "labelFontSize": 25,
      "labelColor": "#231f20",
      "labelOffset": 5,
      "labelBaseline": "top",
      "labelLimit": 300,
      "rowPadding": 10
    },
    "title": {"font": "Open Sans", "color": "#231f20", "fontWeight": "normal"}
  }
}
